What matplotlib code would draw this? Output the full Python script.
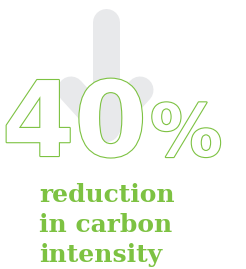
import matplotlib
matplotlib.use("Agg")
import matplotlib.pyplot as plt
import matplotlib.patheffects as pe

big_value = "40"
unit = "%"
caption_lines = ["reduction", "in carbon", "intensity"]

green = "#7dc242"
arrow_grey = "#e8e9eb"

fig = plt.figure(figsize=(2.46, 2.69), dpi=100)
ax = fig.add_axes([0, 0, 1, 1])
ax.set_xlim(0, 246)
ax.set_ylim(269, 0)
ax.axis("off")

# down arrow behind the number (pixel coords, 27px stroke)
lw = 27 * 72 / 100
ax.plot([105.5, 105.5], [22, 128], color=arrow_grey, lw=lw, solid_capstyle="round", zorder=1)
ax.plot([71, 105.5, 140], [90, 128, 90], color=arrow_grey, lw=lw,
        solid_capstyle="round", solid_joinstyle="round", zorder=1)

outline = [pe.Stroke(linewidth=1.6, foreground=green), pe.Normal()]
ax.text(2, 156, big_value, fontsize=75, fontfamily="DejaVu Sans", fontweight="bold",
        color="white", ha="left", va="baseline", path_effects=outline, zorder=2)
ax.text(150, 156, unit, fontsize=52, fontfamily="DejaVu Sans", fontweight="bold",
        color="white", ha="left", va="baseline", path_effects=outline, zorder=2)

baselines = [202, 232, 262]
for line, yb in zip(caption_lines, baselines):
    ax.text(39, yb, line, fontsize=18, fontfamily="DejaVu Serif", fontweight="bold",
            color=green, ha="left", va="baseline", zorder=2)

fig.savefig("out.png", dpi=100)
